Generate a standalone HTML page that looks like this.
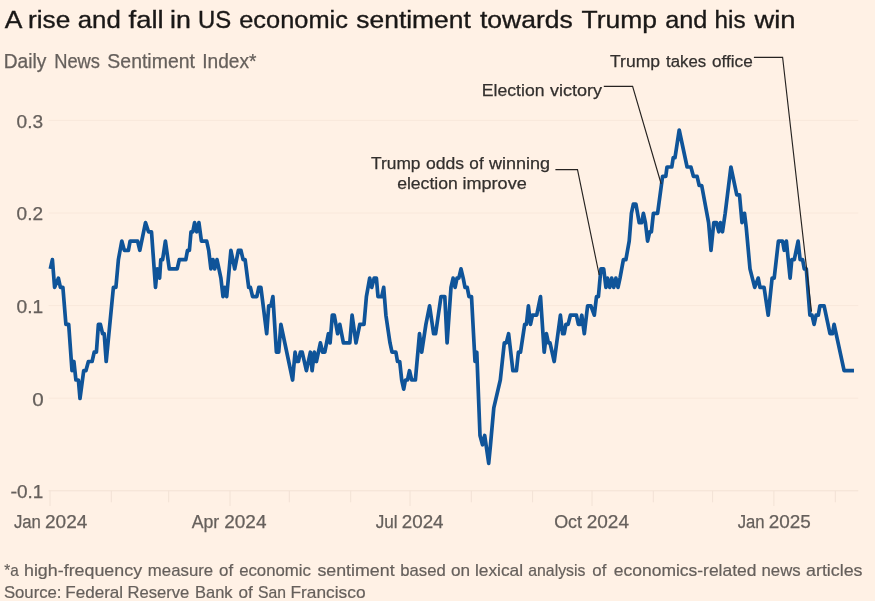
<!DOCTYPE html>
<html><head><meta charset="utf-8"><title>A rise and fall in US economic sentiment towards Trump and his win</title>
<style>
html,body{margin:0;padding:0;background:#fff1e5;}
body{width:875px;height:601px;overflow:hidden;}
svg{display:block;font-family:"Liberation Sans",Arial,sans-serif;}
.title{font-size:24.6px;fill:#1a1817;stroke:#1a1817;stroke-width:.35px;}
.sub{font-size:19.3px;fill:#66605c;stroke:#66605c;stroke-width:.25px;}
.ax{font-size:17.6px;fill:#66605c;stroke:#66605c;stroke-width:.25px;}
.ann{font-size:17.3px;fill:#33302e;stroke:#33302e;stroke-width:.25px;}
.foot{font-size:17px;fill:#66605c;stroke:#66605c;stroke-width:.2px;}
.grid line{stroke:#f9e8db;stroke-width:1;}
.ticks line{stroke:#f2e2d5;stroke-width:1;}
.ptr{fill:none;stroke:#262321;stroke-width:1.15;}
</style></head><body>
<svg width="875" height="601" viewBox="0 0 875 601">
<rect width="875" height="601" fill="#fff1e5"/>
<text class="title" y="27.8" xml:space="preserve"><tspan x="4.80" textLength="16.18" lengthAdjust="spacingAndGlyphs">A</tspan> <tspan x="28.06" textLength="42.30" lengthAdjust="spacingAndGlyphs">rise</tspan> <tspan x="77.69" textLength="43.06" lengthAdjust="spacingAndGlyphs">and</tspan> <tspan x="128.50" textLength="35.11" lengthAdjust="spacingAndGlyphs">fall</tspan> <tspan x="170.12" textLength="20.88" lengthAdjust="spacingAndGlyphs">in</tspan> <tspan x="198.01" textLength="33.20" lengthAdjust="spacingAndGlyphs">US</tspan> <tspan x="239.21" textLength="108.69" lengthAdjust="spacingAndGlyphs">economic</tspan> <tspan x="356.39" textLength="114.42" lengthAdjust="spacingAndGlyphs">sentiment</tspan> <tspan x="480.00" textLength="92.83" lengthAdjust="spacingAndGlyphs">towards</tspan> <tspan x="581.59" textLength="75.49" lengthAdjust="spacingAndGlyphs">Trump</tspan> <tspan x="665.21" textLength="42.21" lengthAdjust="spacingAndGlyphs">and</tspan> <tspan x="714.48" textLength="31.08" lengthAdjust="spacingAndGlyphs">his</tspan> <tspan x="754.43" textLength="41.11" lengthAdjust="spacingAndGlyphs">win</tspan></text>
<text class="sub" y="67.5" xml:space="preserve"><tspan x="3.70" textLength="42.60" lengthAdjust="spacingAndGlyphs">Daily</tspan> <tspan x="54.17" textLength="45.80" lengthAdjust="spacingAndGlyphs">News</tspan> <tspan x="107.39" textLength="87.54" lengthAdjust="spacingAndGlyphs">Sentiment</tspan> <tspan x="202.20" textLength="54.27" lengthAdjust="spacingAndGlyphs">Index*</tspan></text>
<text class="ann" y="169.0" xml:space="preserve"><tspan x="371.03" textLength="49.47" lengthAdjust="spacingAndGlyphs">Trump</tspan> <tspan x="426.05" textLength="38.10" lengthAdjust="spacingAndGlyphs">odds</tspan> <tspan x="469.37" textLength="14.28" lengthAdjust="spacingAndGlyphs">of</tspan> <tspan x="488.98" textLength="61.13" lengthAdjust="spacingAndGlyphs">winning</tspan></text>
<text class="ann" y="189.0" xml:space="preserve"><tspan x="397.15" textLength="60.64" lengthAdjust="spacingAndGlyphs">election</tspan> <tspan x="462.47" textLength="64.26" lengthAdjust="spacingAndGlyphs">improve</tspan></text>
<text class="ann" y="96.0" xml:space="preserve"><tspan x="481.82" textLength="62.67" lengthAdjust="spacingAndGlyphs">Election</tspan> <tspan x="549.90" textLength="52.10" lengthAdjust="spacingAndGlyphs">victory</tspan></text>
<text class="ann" y="66.5" xml:space="preserve"><tspan x="610.03" textLength="49.98" lengthAdjust="spacingAndGlyphs">Trump</tspan> <tspan x="666.10" textLength="40.12" lengthAdjust="spacingAndGlyphs">takes</tspan> <tspan x="711.96" textLength="40.73" lengthAdjust="spacingAndGlyphs">office</tspan></text>
<text class="foot" y="575.9" xml:space="preserve"><tspan x="4.36" textLength="14.44" lengthAdjust="spacingAndGlyphs">*a</tspan> <tspan x="23.98" textLength="118.12" lengthAdjust="spacingAndGlyphs">high-frequency</tspan> <tspan x="147.85" textLength="65.33" lengthAdjust="spacingAndGlyphs">measure</tspan> <tspan x="219.07" textLength="14.07" lengthAdjust="spacingAndGlyphs">of</tspan> <tspan x="239.18" textLength="71.69" lengthAdjust="spacingAndGlyphs">economic</tspan> <tspan x="317.42" textLength="77.22" lengthAdjust="spacingAndGlyphs">sentiment</tspan> <tspan x="400.26" textLength="45.48" lengthAdjust="spacingAndGlyphs">based</tspan> <tspan x="451.06" textLength="19.10" lengthAdjust="spacingAndGlyphs">on</tspan> <tspan x="474.92" textLength="48.23" lengthAdjust="spacingAndGlyphs">lexical</tspan> <tspan x="528.31" textLength="57.09" lengthAdjust="spacingAndGlyphs">analysis</tspan> <tspan x="592.37" textLength="14.07" lengthAdjust="spacingAndGlyphs">of</tspan> <tspan x="613.85" textLength="142.63" lengthAdjust="spacingAndGlyphs">economics-related</tspan> <tspan x="761.55" textLength="39.07" lengthAdjust="spacingAndGlyphs">news</tspan> <tspan x="806.04" textLength="56.52" lengthAdjust="spacingAndGlyphs">articles</tspan></text>
<text class="foot" y="597.5" xml:space="preserve"><tspan x="3.88" textLength="57.63" lengthAdjust="spacingAndGlyphs">Source:</tspan> <tspan x="65.27" textLength="57.86" lengthAdjust="spacingAndGlyphs">Federal</tspan> <tspan x="127.40" textLength="61.87" lengthAdjust="spacingAndGlyphs">Reserve</tspan> <tspan x="195.01" textLength="37.53" lengthAdjust="spacingAndGlyphs">Bank</tspan> <tspan x="238.57" textLength="14.28" lengthAdjust="spacingAndGlyphs">of</tspan> <tspan x="258.01" textLength="27.97" lengthAdjust="spacingAndGlyphs">San</tspan> <tspan x="290.55" textLength="74.95" lengthAdjust="spacingAndGlyphs">Francisco</tspan></text>
<text class="ax" y="127.5" xml:space="preserve"><tspan x="16.60" textLength="26.57" lengthAdjust="spacingAndGlyphs">0.3</tspan></text>
<text class="ax" y="220.1" xml:space="preserve"><tspan x="16.61" textLength="26.47" lengthAdjust="spacingAndGlyphs">0.2</tspan></text>
<text class="ax" y="312.8" xml:space="preserve"><tspan x="16.60" textLength="26.68" lengthAdjust="spacingAndGlyphs">0.1</tspan></text>
<text class="ax" y="405.6" xml:space="preserve"><tspan x="32.36" textLength="11.46" lengthAdjust="spacingAndGlyphs">0</tspan></text>
<text class="ax" y="498.2" xml:space="preserve"><tspan x="10.48" textLength="6.64" lengthAdjust="spacingAndGlyphs">-</tspan><tspan x="16.91" textLength="26.36" lengthAdjust="spacingAndGlyphs">0.1</tspan></text>
<text class="ax" y="527.7" xml:space="preserve"><tspan x="13.94" textLength="27.00" lengthAdjust="spacingAndGlyphs">Jan</tspan> <tspan x="45.01" textLength="42.26" lengthAdjust="spacingAndGlyphs">2024</tspan></text>
<text class="ax" y="527.7" xml:space="preserve"><tspan x="191.70" textLength="27.59" lengthAdjust="spacingAndGlyphs">Apr</tspan> <tspan x="224.21" textLength="42.26" lengthAdjust="spacingAndGlyphs">2024</tspan></text>
<text class="ax" y="527.7" xml:space="preserve"><tspan x="375.63" textLength="21.90" lengthAdjust="spacingAndGlyphs">Jul</tspan> <tspan x="401.72" textLength="41.85" lengthAdjust="spacingAndGlyphs">2024</tspan></text>
<text class="ax" y="527.7" xml:space="preserve"><tspan x="554.16" textLength="27.88" lengthAdjust="spacingAndGlyphs">Oct</tspan> <tspan x="586.71" textLength="42.26" lengthAdjust="spacingAndGlyphs">2024</tspan></text>
<text class="ax" y="527.7" xml:space="preserve"><tspan x="737.74" textLength="26.90" lengthAdjust="spacingAndGlyphs">Jan</tspan> <tspan x="768.81" textLength="42.05" lengthAdjust="spacingAndGlyphs">2025</tspan></text>

<g class="grid"><line x1="48.6" x2="858.3" y1="120.4" y2="120.4"/><line x1="48.6" x2="858.3" y1="213.0" y2="213.0"/><line x1="48.6" x2="858.3" y1="305.6" y2="305.6"/><line x1="48.6" x2="858.3" y1="398.2" y2="398.2"/></g>
<g class="ticks"><line x1="48.6" x2="858.3" y1="490.8" y2="490.8"/><line x1="50.0" x2="50.0" y1="490.8" y2="506"/><line x1="111.3" x2="111.3" y1="490.8" y2="502.3"/><line x1="168.7" x2="168.7" y1="490.8" y2="502.3"/><line x1="230.0" x2="230.0" y1="490.8" y2="506"/><line x1="289.3" x2="289.3" y1="490.8" y2="502.3"/><line x1="350.7" x2="350.7" y1="490.8" y2="502.3"/><line x1="410.0" x2="410.0" y1="490.8" y2="506"/><line x1="471.3" x2="471.3" y1="490.8" y2="502.3"/><line x1="532.6" x2="532.6" y1="490.8" y2="502.3"/><line x1="592.0" x2="592.0" y1="490.8" y2="506"/><line x1="653.3" x2="653.3" y1="490.8" y2="502.3"/><line x1="712.6" x2="712.6" y1="490.8" y2="502.3"/><line x1="773.9" x2="773.9" y1="490.8" y2="506"/><line x1="835.3" x2="835.3" y1="490.8" y2="502.3"/></g>
<polyline points="50.3,268.9 52.4,259.6 54.6,287.4 58.4,278.1 60.4,287.4 62.9,287.4 65.9,324.4 68.7,324.4 72.0,370.7 73.9,361.5 75.9,380.0 78.4,380.0 80.0,398.5 83.7,370.7 85.9,370.7 88.4,361.5 92.1,361.5 94.2,352.2 96.4,352.2 98.4,324.4 100.4,324.4 102.6,333.7 104.2,333.7 106.2,361.5 113.4,287.4 115.9,287.4 118.4,259.6 121.8,241.1 124.3,250.3 128.4,250.3 130.1,241.1 137.6,241.1 139.8,250.3 145.5,222.6 148.5,231.8 151.5,231.8 155.5,287.4 157.2,268.9 159.6,278.1 160.8,259.6 162.6,259.6 165.4,241.1 169.3,268.9 177.2,268.9 179.3,259.6 185.8,259.6 187.5,250.3 189.4,250.3 191.0,231.8 192.8,231.8 194.6,222.6 196.7,231.8 198.9,222.6 201.4,241.1 206.7,241.1 208.7,250.3 210.9,268.9 213.0,259.6 214.7,268.9 217.0,259.6 220.9,278.1 223.0,296.6 224.7,287.4 226.7,296.6 230.9,250.3 234.7,268.9 238.4,250.3 240.9,250.3 243.1,259.6 245.1,259.6 248.7,287.4 250.4,287.4 252.6,296.6 256.8,296.6 258.8,287.4 260.9,287.4 266.7,333.7 268.7,305.9 270.9,305.9 272.9,296.6 276.4,352.2 278.7,352.2 280.9,324.4 292.6,380.0 295.1,352.2 296.7,361.5 298.4,361.5 300.4,352.2 302.2,352.2 306.4,370.7 310.4,352.2 312.1,370.7 314.3,352.2 316.4,361.5 320.4,342.9 322.6,352.2 324.8,352.2 328.4,333.7 330.1,342.9 332.3,315.2 334.3,315.2 337.6,333.7 339.8,324.4 343.4,342.9 349.8,342.9 352.1,315.2 356.0,342.9 359.8,324.4 364.0,324.4 366.4,296.6 369.7,278.1 371.7,287.4 374.2,278.1 376.4,278.1 378.0,296.6 381.7,296.6 383.7,287.4 385.9,315.2 390.0,342.9 392.0,352.2 395.9,352.2 397.5,361.5 399.7,361.5 401.7,380.0 403.7,389.2 405.4,380.0 407.5,380.0 409.5,370.7 411.7,380.0 415.4,380.0 419.5,333.7 421.7,352.2 425.9,324.4 429.6,305.9 433.6,333.7 435.6,333.7 441.0,296.6 444.8,296.6 447.1,342.9 451.0,287.4 453.1,278.1 455.1,287.4 457.0,278.1 458.8,278.1 461.0,268.9 463.2,278.1 465.0,287.4 467.2,287.4 469.0,296.6 471.5,296.6 475.0,361.5 476.8,352.2 480.0,435.5 482.5,444.8 484.7,435.5 488.7,463.3 490.5,444.8 493.8,407.8 500.3,380.0 504.3,342.9 506.3,342.9 508.6,333.7 512.9,370.7 516.4,370.7 518.4,352.2 520.5,352.2 524.7,324.4 526.4,324.4 528.4,305.9 530.5,324.4 532.5,315.2 536.7,315.2 540.5,296.6 544.2,352.2 546.4,333.7 548.4,342.9 550.0,342.9 554.2,361.5 560.4,315.2 562.6,333.7 564.2,333.7 565.9,324.4 568.1,324.4 570.4,315.2 576.4,315.2 578.4,324.4 580.1,324.4 581.8,315.2 584.3,333.7 587.6,305.9 590.9,305.9 594.3,315.2 596.5,296.6 598.4,296.6 600.9,268.9 603.7,268.9 605.9,287.4 607.5,278.1 609.7,287.4 611.7,278.1 613.7,287.4 615.9,278.1 618.0,287.4 620.0,278.1 623.4,259.6 625.9,259.6 629.2,241.1 631.4,213.3 633.4,204.0 635.9,204.0 639.2,222.6 641.7,222.6 643.4,213.3 645.4,222.6 647.6,241.1 649.7,231.8 651.4,231.8 653.4,213.3 657.6,213.3 662.6,176.3 665.8,176.3 667.0,167.0 671.8,167.0 673.2,157.7 675.0,157.7 679.2,130.0 687.1,167.0 690.9,167.0 693.4,176.3 697.1,176.3 699.2,185.5 701.7,185.5 708.6,222.6 711.0,250.3 713.8,222.6 716.5,222.6 718.8,231.8 720.4,222.6 722.5,231.8 725.2,213.3 730.9,167.0 736.8,194.8 739.5,194.8 742.0,222.6 744.5,213.3 746.2,227.2 750.0,268.9 754.7,287.4 758.2,278.1 760.0,287.4 764.1,287.4 768.2,315.2 772.1,278.1 774.2,278.1 778.4,241.1 782.6,241.1 784.2,250.3 786.4,241.1 790.1,278.1 791.8,259.6 794.3,259.6 798.1,241.1 800.1,259.6 802.6,259.6 804.3,268.9 806.3,268.9 809.9,315.2 812.0,315.2 814.1,324.4 816.1,315.2 818.3,315.2 819.9,305.9 824.1,305.9 830.0,333.7 832.5,333.7 834.1,324.4 844.1,370.7 854.0,370.7" fill="none" stroke="#0f5499" stroke-width="3.7" stroke-linejoin="round"/>
<g class="ptr">
<polyline points="555.4,169.6 577.5,169.6 599.2,275"/>
<polyline points="603.8,86.4 632.6,86.4 661.2,184"/>
<polyline points="753.9,57.3 782.6,57.3 811.5,311.6"/>
</g>
</svg>
</body></html>
